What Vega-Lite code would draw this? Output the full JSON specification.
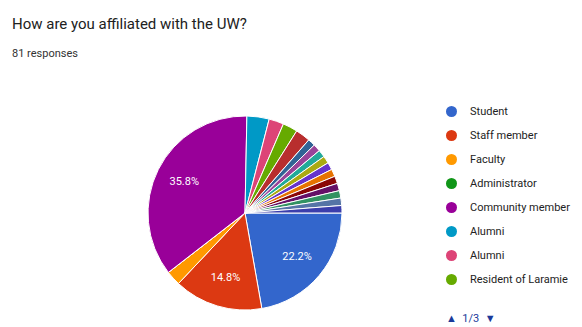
{
  "$schema": "https://vega.github.io/schema/vega-lite/v6.json",
  "width": 490,
  "height": 228,
  "autosize": {"type": "none"},
  "padding": {"top": 99, "left": 0, "right": 92, "bottom": 0},
  "background": "white",
  "config": {"view": {"stroke": null}, "font": "Roboto"},
  "title": {
    "text": "How are you affiliated with the UW?",
    "subtitle": "81 responses",
    "anchor": "start",
    "frame": "group",
    "dx": 12,
    "offset": 40,
    "font": "Roboto",
    "fontSize": 15,
    "fontWeight": "normal",
    "color": "#212121",
    "subtitleFont": "Roboto",
    "subtitleFontSize": 11,
    "subtitleColor": "#333333",
    "subtitlePadding": 16
  },
  "data": {
    "values": [
      {"rank": 1, "cat": "Student", "n": 18},
      {"rank": 2, "cat": "Staff member", "n": 12},
      {"rank": 3, "cat": "Faculty", "n": 2},
      {"rank": 4, "cat": "Administrator", "n": 0},
      {"rank": 5, "cat": "Community member", "n": 29},
      {"rank": 6, "cat": "Alumni", "n": 3},
      {"rank": 7, "cat": "Alumni ", "n": 2},
      {"rank": 8, "cat": "Resident of Laramie", "n": 2},
      {"rank": 9, "cat": "Other response 9", "n": 2},
      {"rank": 10, "cat": "Other response 10", "n": 1},
      {"rank": 11, "cat": "Other response 11", "n": 1},
      {"rank": 12, "cat": "Other response 12", "n": 1},
      {"rank": 13, "cat": "Other response 13", "n": 1},
      {"rank": 14, "cat": "Other response 14", "n": 1},
      {"rank": 15, "cat": "Other response 15", "n": 1},
      {"rank": 16, "cat": "Other response 16", "n": 1},
      {"rank": 17, "cat": "Other response 17", "n": 1},
      {"rank": 18, "cat": "Other response 18", "n": 1},
      {"rank": 19, "cat": "Other response 19", "n": 1},
      {"rank": 20, "cat": "Other response 20", "n": 1}
    ]
  },
  "transform": [
    {"joinaggregate": [{"op": "sum", "field": "n", "as": "total"}]},
    {"calculate": "datum.n >= 10 ? format(datum.n / datum.total, '.1%') : ''", "as": "label"}
  ],
  "encoding": {
    "theta": {"field": "n", "type": "quantitative", "stack": true, "scale": {"range": [1.5708, 7.854]}},
    "order": {"field": "rank", "type": "quantitative"},
    "color": {
      "field": "cat",
      "type": "nominal",
      "scale": {
        "domain": ["Student", "Staff member", "Faculty", "Administrator", "Community member", "Alumni", "Alumni ", "Resident of Laramie", "Other response 9", "Other response 10", "Other response 11", "Other response 12", "Other response 13", "Other response 14", "Other response 15", "Other response 16", "Other response 17", "Other response 18", "Other response 19", "Other response 20"],
        "range": ["#3366cc", "#dc3912", "#ff9900", "#109618", "#990099", "#0099c6", "#dd4477", "#66aa00", "#b82e2e", "#316395", "#994499", "#22aa99", "#aaaa11", "#6633cc", "#e67300", "#8b0707", "#651067", "#329262", "#5574a6", "#3b3eac"]
      },
      "legend": {
        "values": ["Student", "Staff member", "Faculty", "Administrator", "Community member", "Alumni", "Alumni ", "Resident of Laramie"],
        "orient": "none",
        "legendX": 446,
        "legendY": 7,
        "title": "\u00a0\u00a0▲\u00a0 1/3 \u00a0▼",
        "titleOrient": "bottom",
        "titleColor": "#1a3a9a",
        "titleFont": "Roboto",
        "titleFontSize": 11,
        "titleFontWeight": "normal",
        "titlePadding": 28,
        "symbolType": "circle",
        "symbolSize": 121,
        "symbolStrokeWidth": 0,
        "labelFont": "Roboto",
        "labelFontSize": 11,
        "labelColor": "#222222",
        "labelOffset": 13,
        "rowPadding": 12,
        "padding": 0
      }
    }
  },
  "layer": [
    {
      "mark": {"type": "arc", "outerRadius": 97, "stroke": "white", "strokeWidth": 1}
    },
    {
      "mark": {"type": "text", "radius": 68, "color": "white", "font": "Roboto", "fontSize": 11},
      "encoding": {"text": {"field": "label", "type": "nominal"}, "color": {"value": "white"}}
    }
  ]
}
